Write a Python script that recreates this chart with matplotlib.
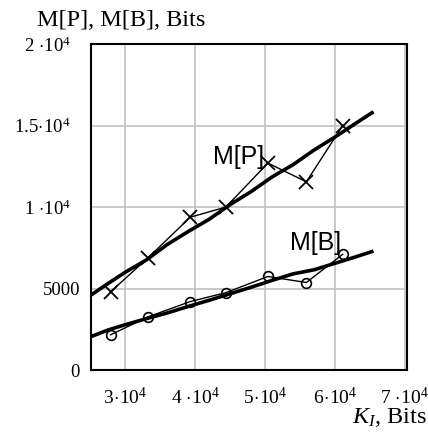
import matplotlib
matplotlib.use("Agg")
import matplotlib.pyplot as plt
from matplotlib.transforms import ScaledTranslation

plt.rcParams['font.family'] = 'Liberation Serif'
plt.rcParams['mathtext.fontset'] = 'custom'
plt.rcParams['mathtext.rm'] = 'Liberation Serif'
plt.rcParams['mathtext.it'] = 'Liberation Serif:italic'

# measured points
k_pts = [2.79e4, 3.33e4, 3.93e4, 4.44e4, 5.04e4, 5.59e4, 6.11e4]
mp_pts = [4800, 6900, 9380, 10000, 12700, 11550, 15000]
mb_pts = [2160, 3270, 4200, 4750, 5740, 5370, 7100]

# smooth (model) curves
k_fit = [2.51e4, 2.75e4, 3.0e4, 3.3e4, 3.6e4, 3.9e4, 4.2e4, 4.5e4,
         4.8e4, 5.1e4, 5.4e4, 5.7e4, 6.0e4, 6.3e4, 6.55e4]
mp_fit = [4600, 5300, 6000, 6750, 7700, 8500, 9250, 10150,
          10950, 11850, 12600, 13500, 14300, 15150, 15850]
mb_fit = [2050, 2450, 2780, 3150, 3500, 3900, 4280, 4680,
          5080, 5500, 5900, 6150, 6550, 6950, 7300]

x_ticks = [3e4, 4e4, 5e4, 6e4, 7e4]
x_labels = [r'$3\!\cdot\!10^{4}$', r'$4\,\cdot\!10^{4}$', r'$5\!\cdot\!10^{4}$',
            r'$6\!\cdot\!10^{4}$', r'$7\,\cdot\!10^{4}$']
y_ticks = [0, 5000, 1e4, 1.5e4, 2e4]
y_labels = ['0', '5000', r'$1\,\cdot\!10^{4}$', r'$1.5\!\cdot\!10^{4}$',
            r'$2\,\cdot\!10^{4}$']

fig = plt.figure(figsize=(4.28, 4.37), dpi=100)
ax = fig.add_axes([0.2126, 0.1533, 0.7384, 0.7457])

ax.set_xlim(2.51e4, 7.03e4)
ax.set_ylim(0, 2e4)
ax.set_xticks(x_ticks)
ax.set_xticklabels(x_labels, fontsize=14)
ax.set_yticks(y_ticks)
ax.set_yticklabels(y_labels, fontsize=13.5)
ax.tick_params(axis='x', length=0, pad=12)
ax.tick_params(axis='y', length=0, pad=8)
ax.grid(True, color='#c0c0c0', lw=1.2)
for s in ax.spines.values():
    s.set_linewidth(1.5)

# the 10^4 labels sit a bit further left
shift = ScaledTranslation(-0.09, 0, fig.dpi_scale_trans)
for lab in ax.get_yticklabels()[2:]:
    lab.set_transform(lab.get_transform() + shift)

ax.plot(k_fit, mp_fit, color='black', lw=2.6, solid_capstyle='butt')
ax.plot(k_fit, mb_fit, color='black', lw=2.6, solid_capstyle='butt')
ax.plot(k_pts, mp_pts, color='black', lw=1.0, marker='x', ms=10, mew=1.3)
ax.plot(k_pts, mb_pts, color='black', lw=1.0, marker='o', ms=7, mew=1.2,
        mfc='none')

ax.text(4.26e4, 1.31e4, 'M[P]', family='Liberation Sans', fontsize=18,
        ha='left', va='center')
ax.text(5.36e4, 7.8e3, 'M[B]', family='Liberation Sans', fontsize=18,
        ha='left', va='center')

fig.text(0.086, 0.953, 'M[P], M[B], Bits', fontsize=17.5, ha='left', va='center')
fig.text(0.998, 0.018, r'$K_{I}$, Bits', fontsize=17.5, ha='right', va='bottom')

fig.savefig('out.png', dpi=100)
